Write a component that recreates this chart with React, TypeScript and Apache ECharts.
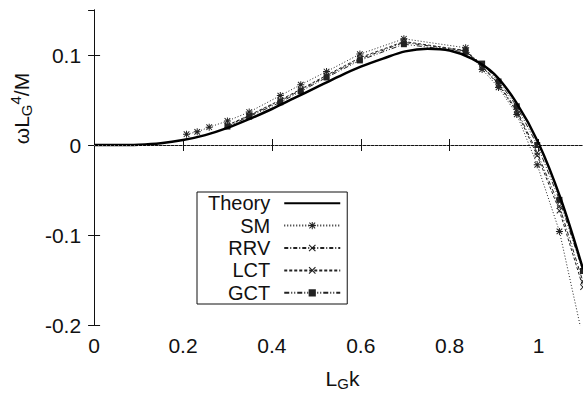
import React, { useEffect, useRef } from "react";
import * as echarts from "echarts";

// Theory curve
const kTheory = [0, 0.05, 0.1, 0.15, 0.2, 0.25, 0.3, 0.35, 0.4, 0.45, 0.5, 0.55, 0.6, 0.65, 0.7, 0.75, 0.8, 0.85, 0.9, 0.95, 1.0, 1.05, 1.1];
const vTheory = [0, 0, 0.0004, 0.002, 0.0055, 0.011, 0.019, 0.029, 0.04, 0.052, 0.064, 0.076, 0.087, 0.096, 0.104, 0.107, 0.105, 0.096, 0.079, 0.047, 0.002, -0.06, -0.138];

// SM points
const kSM = [0.208, 0.232, 0.259, 0.3, 0.349, 0.419, 0.465, 0.523, 0.598, 0.697, 0.836, 0.873, 0.91, 0.951, 0.997, 1.047, 1.1];
const vSM = [0.012, 0.0146, 0.0198, 0.0267, 0.0366, 0.0549, 0.067, 0.0816, 0.101, 0.118, 0.108, 0.084, 0.064, 0.034, -0.022, -0.096, -0.215];

// RRV / LCT / GCT points share wavenumbers
const kData = [0.3, 0.349, 0.419, 0.465, 0.523, 0.598, 0.697, 0.836, 0.873, 0.91, 0.951, 0.997, 1.047, 1.1];
const vRRV = [0.0215, 0.0325, 0.049, 0.061, 0.0765, 0.0955, 0.114, 0.1045, 0.088, 0.068, 0.039, -0.0085, -0.068, -0.152];
const vLCT = [0.022, 0.033, 0.05, 0.062, 0.0775, 0.097, 0.115, 0.105, 0.087, 0.067, 0.037, -0.0117, -0.073, -0.158];
const vGCT = [0.0205, 0.0315, 0.0475, 0.0596, 0.075, 0.094, 0.112, 0.1035, 0.0905, 0.0706, 0.043, 0.0, -0.061, -0.14];

const seriesNames = ["Theory", "SM", "RRV", "LCT", "GCT"];

const STAR =
  "path://M4.3 0h1.4v10h-1.4z M0 4.3h10v1.4h-10z M1.5 0.5L9.5 8.5L8.5 9.5L0.5 1.5z M8.5 0.5L9.5 1.5L1.5 9.5L0.5 8.5z";
const CROSS = "path://M1.5 0.5L9.5 8.5L8.5 9.5L0.5 1.5z M8.5 0.5L9.5 1.5L1.5 9.5L0.5 8.5z";

const FONT = "'Liberation Sans', Arial, Helvetica, sans-serif";
const INK = "#111";

const zip = (ks: number[], vs: number[]) => ks.map((k, i) => [k, vs[i]]);

export default function App() {
  const ref = useRef<HTMLDivElement>(null);
  useEffect(() => {
    if (!ref.current) return;
    const chart = echarts.init(ref.current, undefined, { renderer: "svg" });
    const axisCommon = {
      axisLine: { show: true, lineStyle: { color: INK, width: 1 } },
      axisTick: { show: true, inside: true, length: 6, lineStyle: { color: INK, width: 1 } },
      splitLine: { show: false },
    };
    const dataSeries = (
      name: string,
      ks: number[],
      vs: number[],
      symbol: string,
      size: number,
      dash: number[]
    ) => ({
      name,
      type: "line",
      data: zip(ks, vs),
      symbol,
      symbolSize: size,
      showSymbol: true,
      clip: true,
      lineStyle: { color: "#222", width: 1, type: dash },
      itemStyle: { color: "#222" },
      z: 3,
    });
    chart.setOption({
      animation: false,
      textStyle: { fontFamily: FONT },
      grid: { left: 92, top: 10, width: 492, height: 319, containLabel: false },
      xAxis: [
        {
          type: "value",
          min: 0,
          max: 1.1,
          interval: 0.2,
          position: "bottom",
          ...axisCommon,
          axisLabel: { show: true, fontSize: 21, color: INK, margin: 10, showMaxLabel: false, fontFamily: FONT },
          name: "{m|L}{s|G}{m|k}",
          nameLocation: "middle",
          nameGap: 40,
          nameTextStyle: {
            padding: [0, 0, 0, 8],
            rich: {
              m: { fontSize: 21, color: INK, fontFamily: FONT },
              s: { fontSize: 15, color: INK, fontFamily: FONT, padding: [11, 0, 0, 0] },
            },
          },
        },
        {
          type: "value",
          min: 0,
          max: 1.1,
          interval: 0.2,
          position: "top",
          ...axisCommon,
          axisLabel: { show: false },
        },
      ],
      yAxis: [
        {
          type: "value",
          min: -0.2,
          max: 0.15,
          interval: 0.1,
          position: "left",
          ...axisCommon,
          axisLabel: { show: true, fontSize: 21, color: INK, margin: 13, showMaxLabel: false, fontFamily: FONT },
          name: "{m|ωL}{s|G}{p|4}{m|/M}",
          nameLocation: "middle",
          nameGap: 50,
          nameTextStyle: {
            padding: [0, 0, 0, 118],
            rich: {
              m: { fontSize: 21, color: INK, fontFamily: FONT },
              s: { fontSize: 15, color: INK, fontFamily: FONT, padding: [11, 0, 0, 0] },
              p: { fontSize: 15, color: INK, fontFamily: FONT, padding: [0, 0, 11, 0] },
            },
          },
        },
        {
          type: "value",
          min: -0.2,
          max: 0.15,
          interval: 0.1,
          position: "right",
          ...axisCommon,
          axisLabel: { show: false },
        },
      ],
      legend: {
        orient: "vertical",
        left: 197,
        top: 192,
        align: "right",
        padding: [0, 6, 0, 11],
        itemGap: 0,
        itemWidth: 56,
        itemHeight: 9,
        borderColor: INK,
        borderWidth: 1,
        selectedMode: false,
        textStyle: { fontSize: 20, lineHeight: 22.4, color: INK, fontFamily: FONT, padding: [0, 9, 0, 0] },
        data: [
          { name: seriesNames[0], itemStyle: { opacity: 0 } },
          { name: seriesNames[1] },
          { name: seriesNames[2] },
          { name: seriesNames[3] },
          { name: seriesNames[4] },
        ],
      },
      series: [
        {
          name: seriesNames[0],
          type: "line",
          data: zip(kTheory, vTheory),
          smooth: 0.35,
          symbol: "circle",
          showSymbol: false,
          clip: true,
          lineStyle: { color: "#000", width: 2.5 },
          itemStyle: { color: "#000" },
          z: 4,
          markLine: {
            silent: true,
            symbol: ["none", "none"],
            label: { show: false },
            lineStyle: { color: "#888", width: 1, type: [1, 3] },
            data: [{ yAxis: 0 }],
          },
        },
        dataSeries(seriesNames[1], kSM, vSM, STAR, 7, [1, 2]),
        dataSeries(seriesNames[2], kData, vRRV, CROSS, 6, [4, 2, 1, 2]),
        dataSeries(seriesNames[3], kData, vLCT, CROSS, 6, [3, 2]),
        dataSeries(seriesNames[4], kData, vGCT, "rect", 6, [5, 2, 1, 2, 1, 2]),
      ],
    });
    return () => chart.dispose();
  }, []);
  return (
    <div
      ref={ref}
      style={{ position: "fixed", left: 0, top: 0, width: 583, height: 396, background: "#fff" }}
    />
  );
}
